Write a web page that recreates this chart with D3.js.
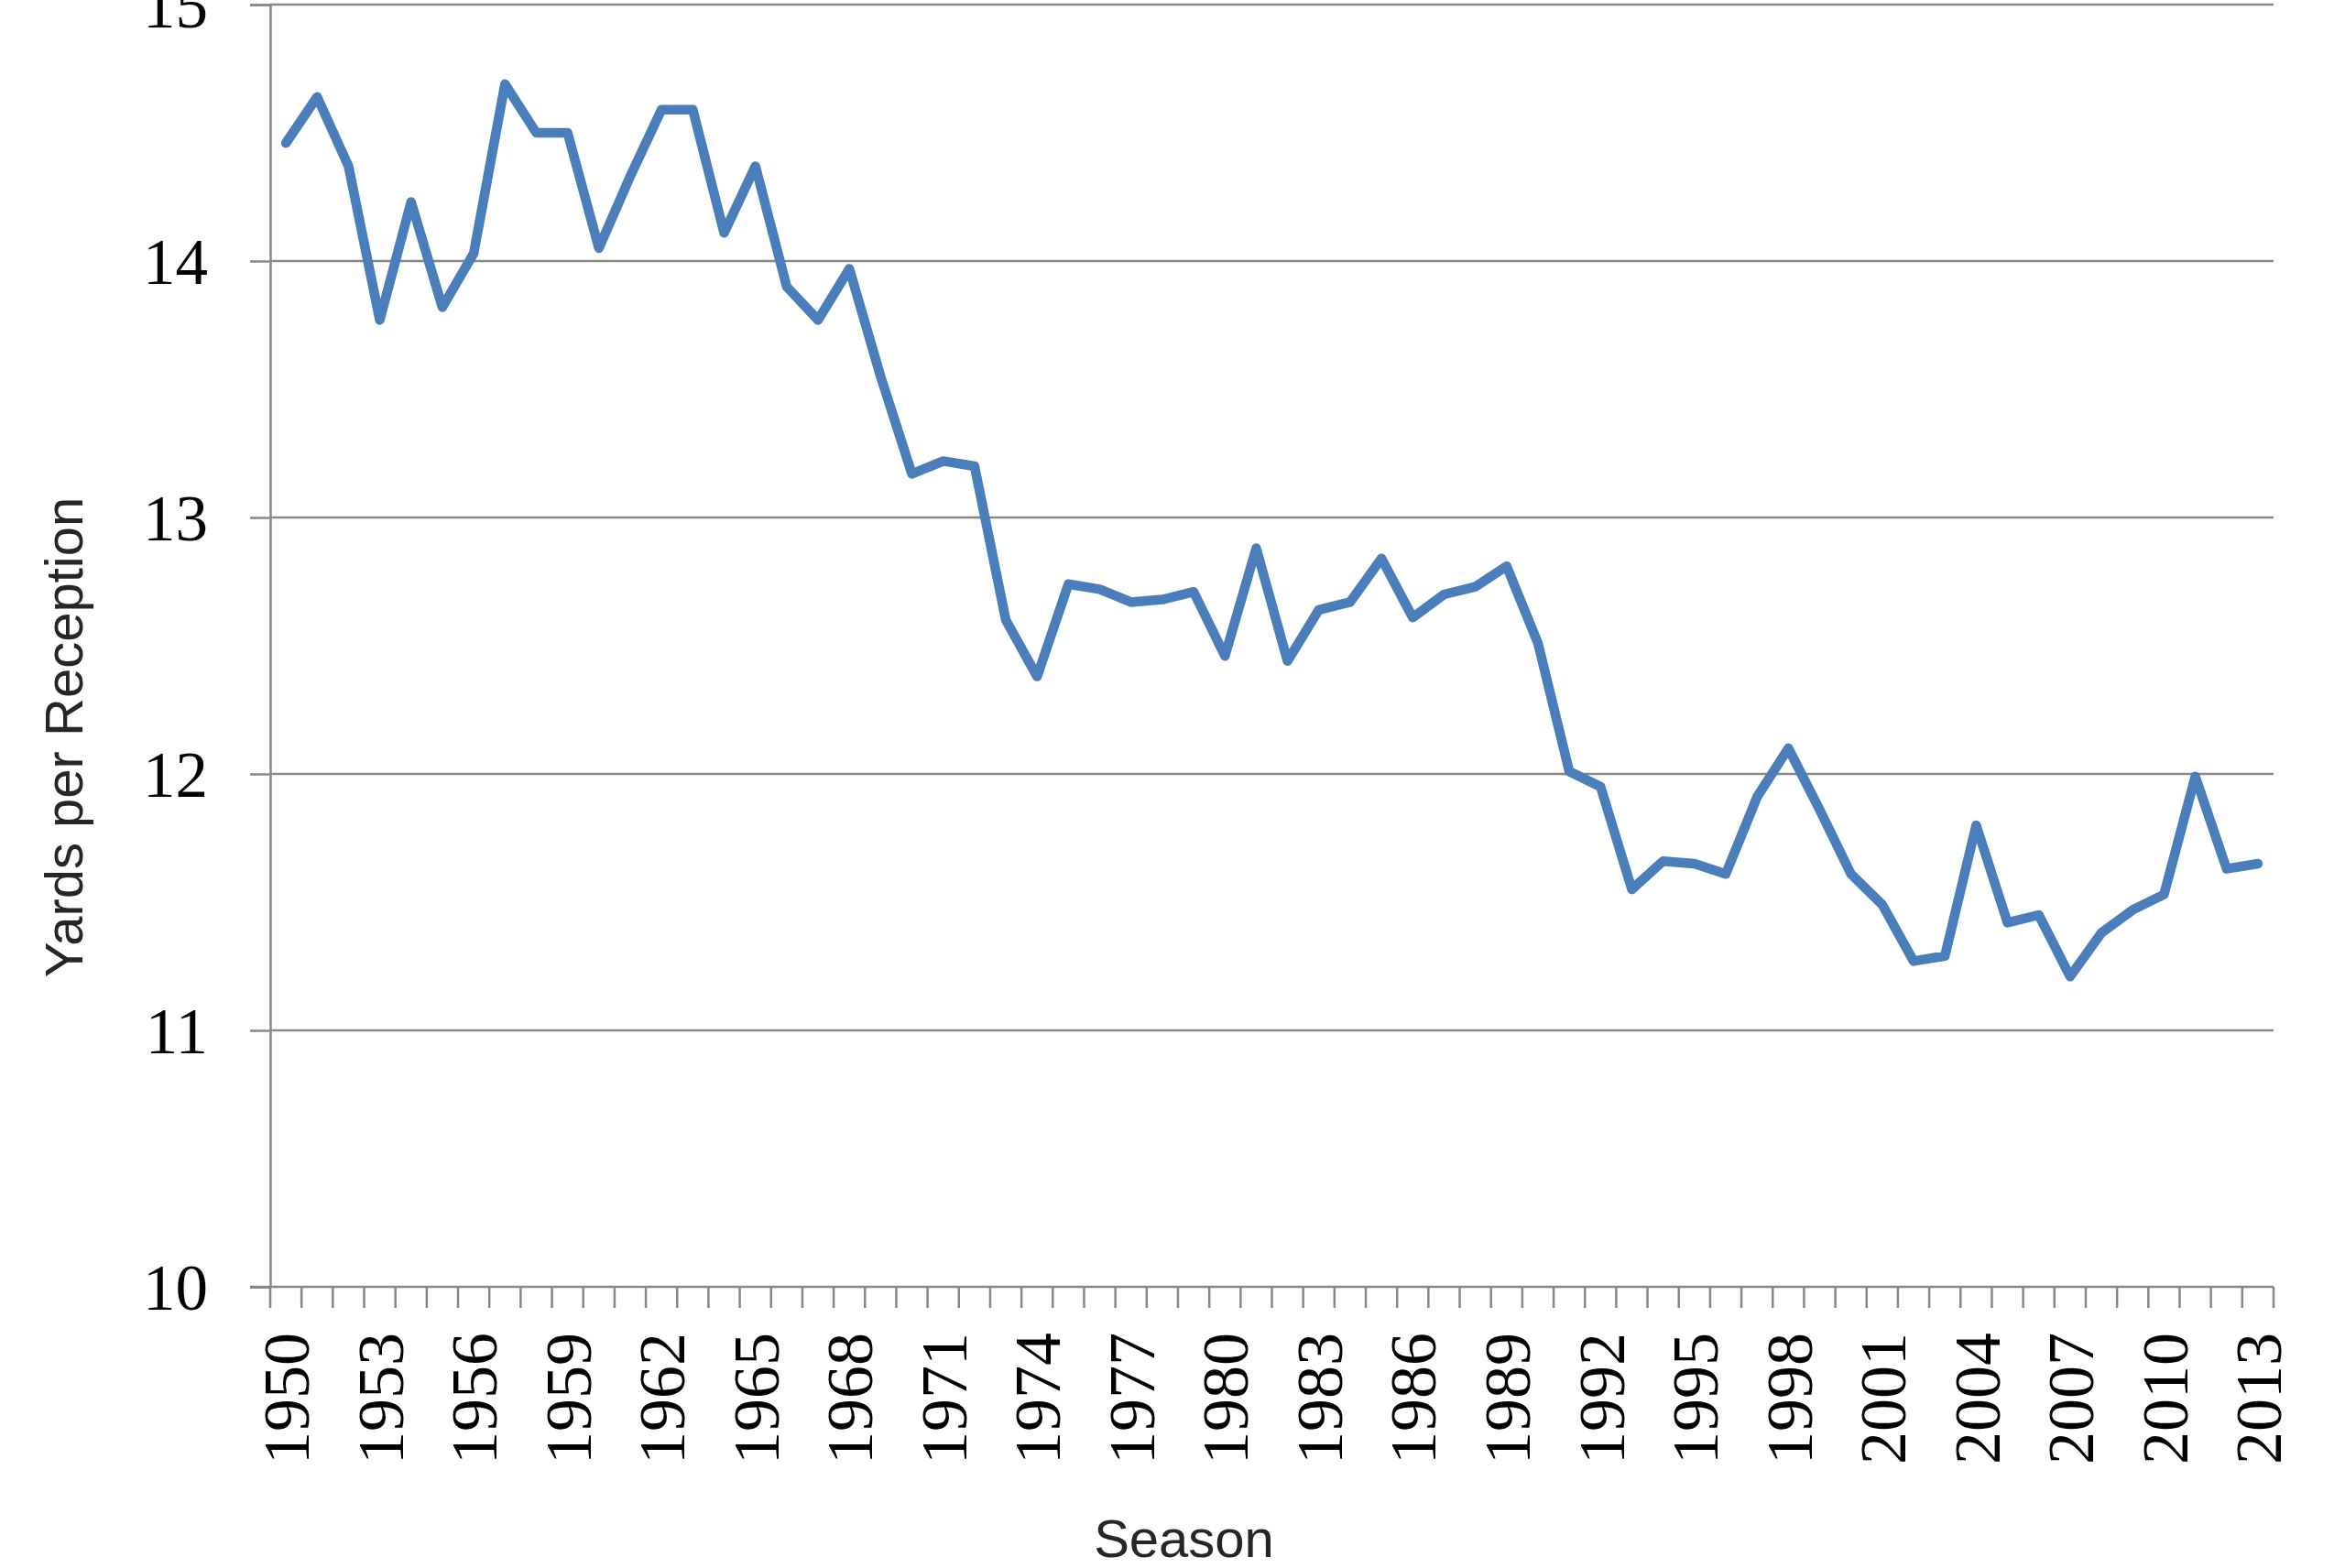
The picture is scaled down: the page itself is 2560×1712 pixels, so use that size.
<!DOCTYPE html>
<html>
<head>
<meta charset="utf-8">
<script src="https://cdn.jsdelivr.net/npm/d3@7"></script>
<style>
  html, body { margin: 0; padding: 0; background: #fff; }
</style>
</head>
<body>
<div id="chart"></div>
<script>
// Seasons 1950-2013
const seasons = d3.range(1950, 2014);

// Yards per reception
const yardsPerReception = [
    14.46, 14.64, 14.37, 13.77, 14.23, 13.82, 14.03, 14.69, 14.50, 14.50,
    14.05, 14.33, 14.59, 14.59, 14.11, 14.37, 13.90, 13.77, 13.97, 13.55,
    13.17, 13.22, 13.20, 12.60, 12.38, 12.74, 12.72, 12.67, 12.68, 12.71,
    12.46, 12.88, 12.44, 12.64, 12.67, 12.84, 12.61, 12.70, 12.73, 12.81,
    12.51, 12.01, 11.95, 11.55, 11.66, 11.65, 11.61, 11.91, 12.10, 11.86,
    11.61, 11.49, 11.27, 11.29, 11.80, 11.42, 11.45, 11.21, 11.38, 11.47,
    11.53, 11.99, 11.63, 11.65
];

const yTicks = [10, 11, 12, 13, 14, 15];
const xLabelYears = seasons.filter(s => (s - 1950) % 3 === 0);

const xTitle = "Season";
const yTitle = "Yards per Reception";

// Define constants
let width = 2560,
    height = 1712,
    margin = { top: 5, right: 78, bottom: 307, left: 295 };

let gridColor = "#878787",
    lineColor = "#4a7ebb";

let data = seasons.map((s, i) => ({ season: s, value: yardsPerReception[i] }));

let x = d3.scaleBand()
    .domain(seasons)
    .range([margin.left, width - margin.right])
    .padding(0);

let y = d3.scaleLinear()
    .domain([10, 15])
    .range([height - margin.bottom, margin.top]);

let svg = d3.select("#chart")
    .append("svg")
    .attr("width", width)
    .attr("height", height)
    .style("display", "block")
    .style("background", "#fff");

// Horizontal gridlines
svg.append("g")
    .selectAll("line")
    .data(yTicks.filter(t => t !== 10))
    .join("line")
    .attr("x1", margin.left)
    .attr("x2", width - margin.right)
    .attr("y1", d => y(d))
    .attr("y2", d => y(d))
    .attr("stroke", gridColor)
    .attr("stroke-width", 2.5);

// Y axis
let yAxis = svg.append("g")
    .attr("transform", `translate(${margin.left},0)`)
    .call(d3.axisLeft(y).tickValues(yTicks).tickSize(22).tickPadding(46).tickFormat(d3.format("d")));

yAxis.select(".domain").attr("stroke", gridColor).attr("stroke-width", 2.5);
yAxis.selectAll(".tick line").attr("stroke", gridColor).attr("stroke-width", 2.5);
yAxis.selectAll(".tick text")
    .attr("font-family", "'Liberation Serif', 'Times New Roman', serif")
    .attr("font-size", "71px")
    .attr("fill", "#000")
    .attr("dy", "0.34em");

// X axis: labels every third season, centred on the band
let xAxis = svg.append("g")
    .attr("transform", `translate(0,${y(10)})`)
    .call(d3.axisBottom(x).tickValues(xLabelYears).tickSize(0).tickSizeOuter(0));

xAxis.select(".domain").remove();
xAxis.selectAll(".tick text")
    .attr("transform", "rotate(-90)")
    .attr("text-anchor", "end")
    .attr("x", -50)
    .attr("y", 0)
    .attr("dy", "0.35em")
    .attr("font-family", "'Liberation Serif', 'Times New Roman', serif")
    .attr("font-size", "72px")
    .attr("fill", "#000");

// X axis line and tick marks between the seasons
svg.append("line")
    .attr("x1", margin.left - 22)
    .attr("x2", width - margin.right)
    .attr("y1", y(10))
    .attr("y2", y(10))
    .attr("stroke", gridColor)
    .attr("stroke-width", 2.5);

let boundaries = seasons.map(s => x(s)).concat([x.range()[1]]);

svg.append("g")
    .selectAll("line")
    .data(boundaries)
    .join("line")
    .attr("x1", d => d)
    .attr("x2", d => d)
    .attr("y1", y(10))
    .attr("y2", y(10) + 23)
    .attr("stroke", gridColor)
    .attr("stroke-width", 2.5);

// The series line
let line = d3.line()
    .x(d => x(d.season) + x.bandwidth() / 2)
    .y(d => y(d.value));

svg.append("path")
    .datum(data)
    .attr("fill", "none")
    .attr("stroke", lineColor)
    .attr("stroke-width", 10.5)
    .attr("stroke-linejoin", "round")
    .attr("stroke-linecap", "round")
    .attr("d", line);

// Axis titles
svg.append("text")
    .attr("x", (margin.left + width - margin.right) / 2 - 96)
    .attr("y", 1700)
    .attr("text-anchor", "middle")
    .attr("font-family", "'Liberation Sans', Arial, sans-serif")
    .attr("font-size", "58px")
    .attr("fill", "#262626")
    .text(xTitle);

svg.append("text")
    .attr("transform", `translate(90,${805}) rotate(-90)`)
    .attr("text-anchor", "middle")
    .attr("font-family", "'Liberation Sans', Arial, sans-serif")
    .attr("font-size", "58px")
    .attr("fill", "#262626")
    .text(yTitle);
</script>
</body>
</html>
